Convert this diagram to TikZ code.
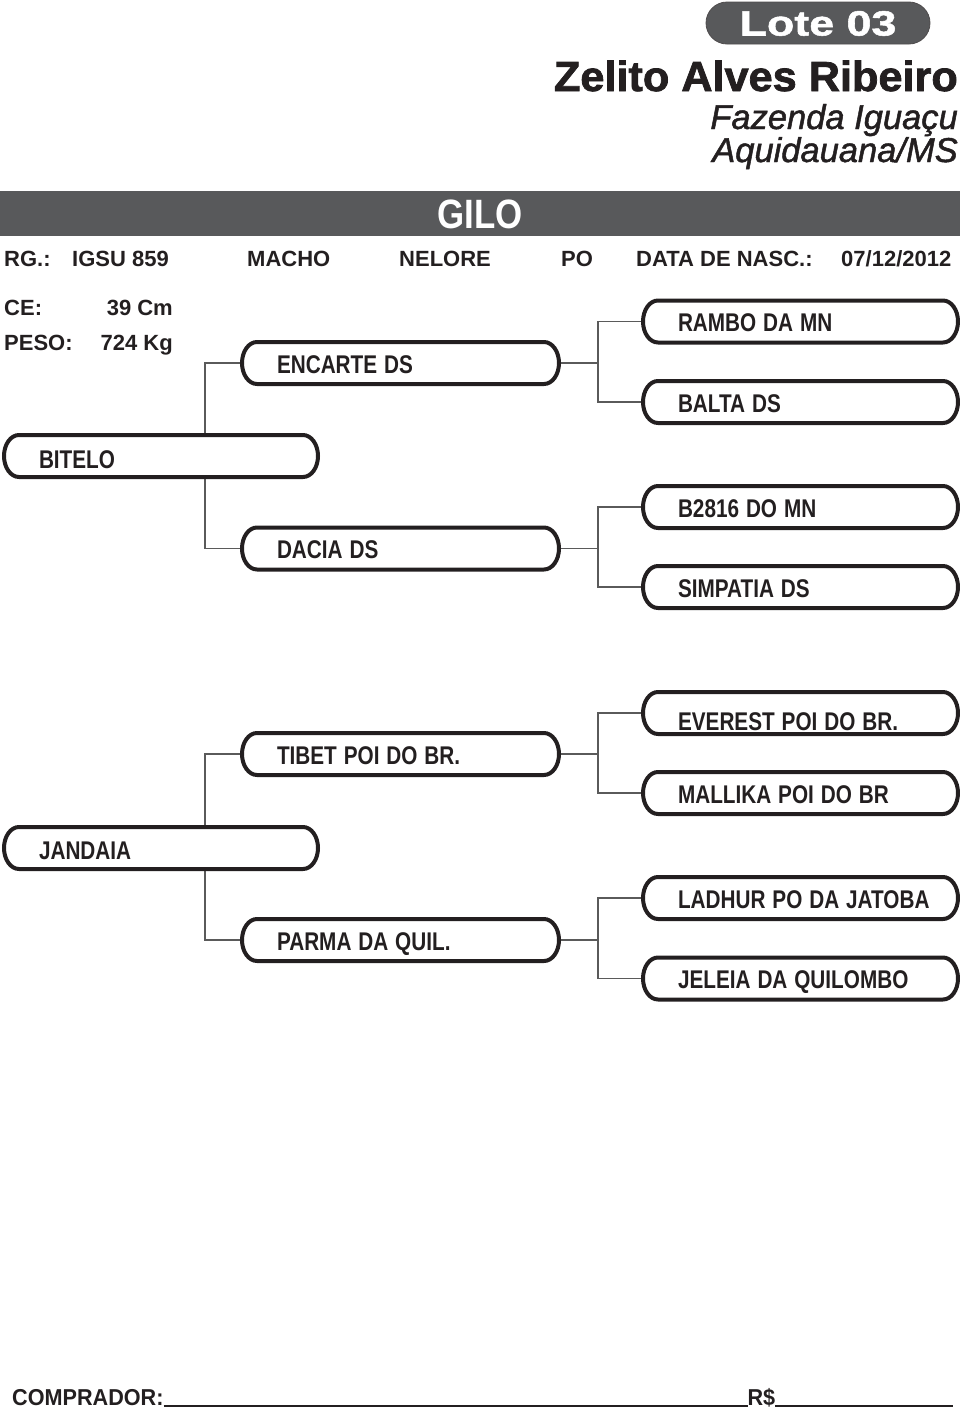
\documentclass[tikz,border=0pt]{standalone}
\usepackage{fontspec}
\setmainfont{Liberation Sans}
\newfontfamily\condb{Liberation Sans Bold}[FakeStretch=0.81,WordSpace=1.2]
\newfontfamily\gilofont{Liberation Sans Bold}[FakeStretch=0.85]
\newfontfamily\wideb{Liberation Sans Bold}[FakeStretch=1.03,FakeBold=1.8]
\newfontfamily\lotefont{Liberation Sans Bold}[FakeStretch=1.28,FakeBold=1.5]
\newfontfamily\itfont{Liberation Sans Italic}[FakeBold=1.4]
\newfontfamily\comprfont{Liberation Sans Bold}[FakeStretch=0.94]
\newfontfamily\headb{Liberation Sans Bold}
\usetikzlibrary{calc}
\definecolor{bargray}{HTML}{58595B}
\definecolor{ink}{HTML}{231F20}
\definecolor{conngray}{HTML}{5A5A5A}
\newcommand{\pillframe}[1]{%
  \draw[frame] ([xshift=15pt]#1.north west) -- ([xshift=-15pt]#1.north east)
    arc[start angle=90,end angle=-90,x radius=15pt,y radius=21pt]
    -- ([xshift=15pt]#1.south west)
    arc[start angle=270,end angle=90,x radius=15pt,y radius=21pt] -- cycle;}
\tikzset{
  frame/.style={draw=ink,line width=4pt},
  conn/.style={draw=conngray,line width=1.6pt},
  pbox/.style={rectangle,draw=none,anchor=west,outer sep=0pt,inner xsep=35pt,inner ysep=0pt,
    minimum height=42pt,minimum width=#1,text height=20pt,text depth=0pt,text=ink,
    font=\condb\fontsize{25.6}{28}\selectfont},
  leftbox/.style={pbox=314pt},
  midbox/.style={pbox=317pt},
  rightbox/.style={pbox=315pt},
  head/.style={anchor=base west,inner sep=0pt,text=ink,font=\headb\fontsize{22}{24}\selectfont},
}
\newcommand{\lt}[2]{\makebox[#1][l]{#2}}
\begin{document}
\begin{tikzpicture}[x=1pt,y=1pt]
\useasboundingbox (0,0) rectangle (960,-1411);

% title block
\node[rectangle,rounded corners=21pt,fill=bargray,draw=ink!80,line width=0.8pt,
  minimum width=224pt,minimum height=42pt,inner sep=0pt,text height=25pt,text depth=0pt,
  text=white,font=\lotefont\fontsize{35}{38}\selectfont] (lote) at (818,-23) {Lote 03};
\node[anchor=base east,inner sep=0pt,text=ink,font=\wideb\fontsize{42}{44}\selectfont] (owner) at (958,-91) {Zelito Alves Ribeiro};
\node[anchor=base east,inner sep=0pt,text=ink,font=\itfont\fontsize{34.5}{38}\selectfont] (farm) at (958,-129) {Fazenda Iguaçu};
\node[anchor=base east,inner sep=0pt,text=ink,font=\itfont\fontsize{34.5}{38}\selectfont] (city) at (958,-162) {Aquidauana/MS};

% name bar
\node[rectangle,fill=bargray,minimum width=960pt,minimum height=45pt,inner sep=0pt,
  text height=30pt,text depth=0pt,text=white,font=\gilofont\fontsize{41}{44}\selectfont] (gilo) at (480,-213.5) {GILO};

% info row
\node[head] (rg) at (4,-266) {RG.:};
\node[head] (rgv) at (72,-266) {IGSU 859};
\node[head] (sexo) at (247,-266) {MACHO};
\node[head] (raca) at (399,-266) {NELORE};
\node[head] (po) at (561,-266) {PO};
\node[head] (nasc) at (636,-266) {DATA DE NASC.:};
\node[head] (nascv) at (841,-266) {07/12/2012};
\node[head] (ce) at (4,-315) {CE:};
\node[head,anchor=base east] (cev) at (173,-315) {39 Cm};
\node[head] (peso) at (4,-350) {PESO:};
\node[head,anchor=base east] (pesov) at (173,-350) {724 Kg};

% pedigree boxes
\node[leftbox,text height=24pt] (bitelo) at (4,-456) {\lt{244pt}{BITELO}};
\node[midbox] (encarte) at (242,-363) {\lt{247pt}{ENCARTE DS}};
\node[midbox] (dacia) at (242,-548.5) {\lt{247pt}{DACIA DS}};
\node[rightbox] (rambo) at (643,-321.5) {\lt{245pt}{RAMBO DA MN}};
\node[rightbox] (balta) at (643,-402) {\lt{245pt}{BALTA DS}};
\node[rightbox] (b2816) at (643,-507) {\lt{245pt}{B2816 DO MN}};
\node[rightbox] (simpatia) at (643,-587) {\lt{245pt}{SIMPATIA DS}};

\node[leftbox,text height=22pt] (jandaia) at (4,-848) {\lt{244pt}{JANDAIA}};
\node[midbox] (tibet) at (242,-754) {\lt{247pt}{TIBET POI DO BR.}};
\node[midbox] (parma) at (242,-940) {\lt{247pt}{PARMA DA QUIL.}};
\node[rightbox,text height=34pt] (everest) at (643,-713) {\lt{245pt}{EVEREST POI DO BR.}};
\node[rightbox] (mallika) at (643,-793) {\lt{245pt}{MALLIKA POI DO BR}};
\node[rightbox] (ladhur) at (643,-898) {\lt{245pt}{LADHUR PO DA JATOBA}};
\node[rightbox] (jeleia) at (643,-978.5) {\lt{245pt}{JELEIA DA QUILOMBO}};

% connectors
\draw[conn] (encarte.west) -- ++(-37,0) coordinate (t1) -- (t1 |- bitelo.north);
\draw[conn] (dacia.west) -- ++(-37,0) coordinate (t2) -- (t2 |- bitelo.south);
\draw[conn] (tibet.west) -- ++(-37,0) coordinate (t3) -- (t3 |- jandaia.north);
\draw[conn] (parma.west) -- ++(-37,0) coordinate (t4) -- (t4 |- jandaia.south);
\draw[conn] (encarte.east) -- ++(40,0);
\draw[conn] (rambo.west) -- ++(-45,0) |- (balta.west);
\draw[conn] (dacia.east) -- ++(40,0);
\draw[conn] (b2816.west) -- ++(-45,0) |- (simpatia.west);
\draw[conn] (tibet.east) -- ++(40,0);
\draw[conn] (everest.west) -- ++(-45,0) |- (mallika.west);
\draw[conn] (parma.east) -- ++(40,0);
\draw[conn] (ladhur.west) -- ++(-45,0) |- (jeleia.west);

\foreach \n in {bitelo,encarte,dacia,rambo,balta,b2816,simpatia,jandaia,tibet,parma,everest,mallika,ladhur,jeleia}
  {\pillframe{\n}}

% footer
\node[anchor=base west,inner sep=0pt,text=ink,font=\comprfont\fontsize{23}{25}\selectfont] (comprador) at (12,-1405)
  {COMPRADOR:\rule[-1.5pt]{584pt}{1.6pt}R\$\rule[-1.5pt]{178pt}{1.6pt}};
\end{tikzpicture}
\end{document}
